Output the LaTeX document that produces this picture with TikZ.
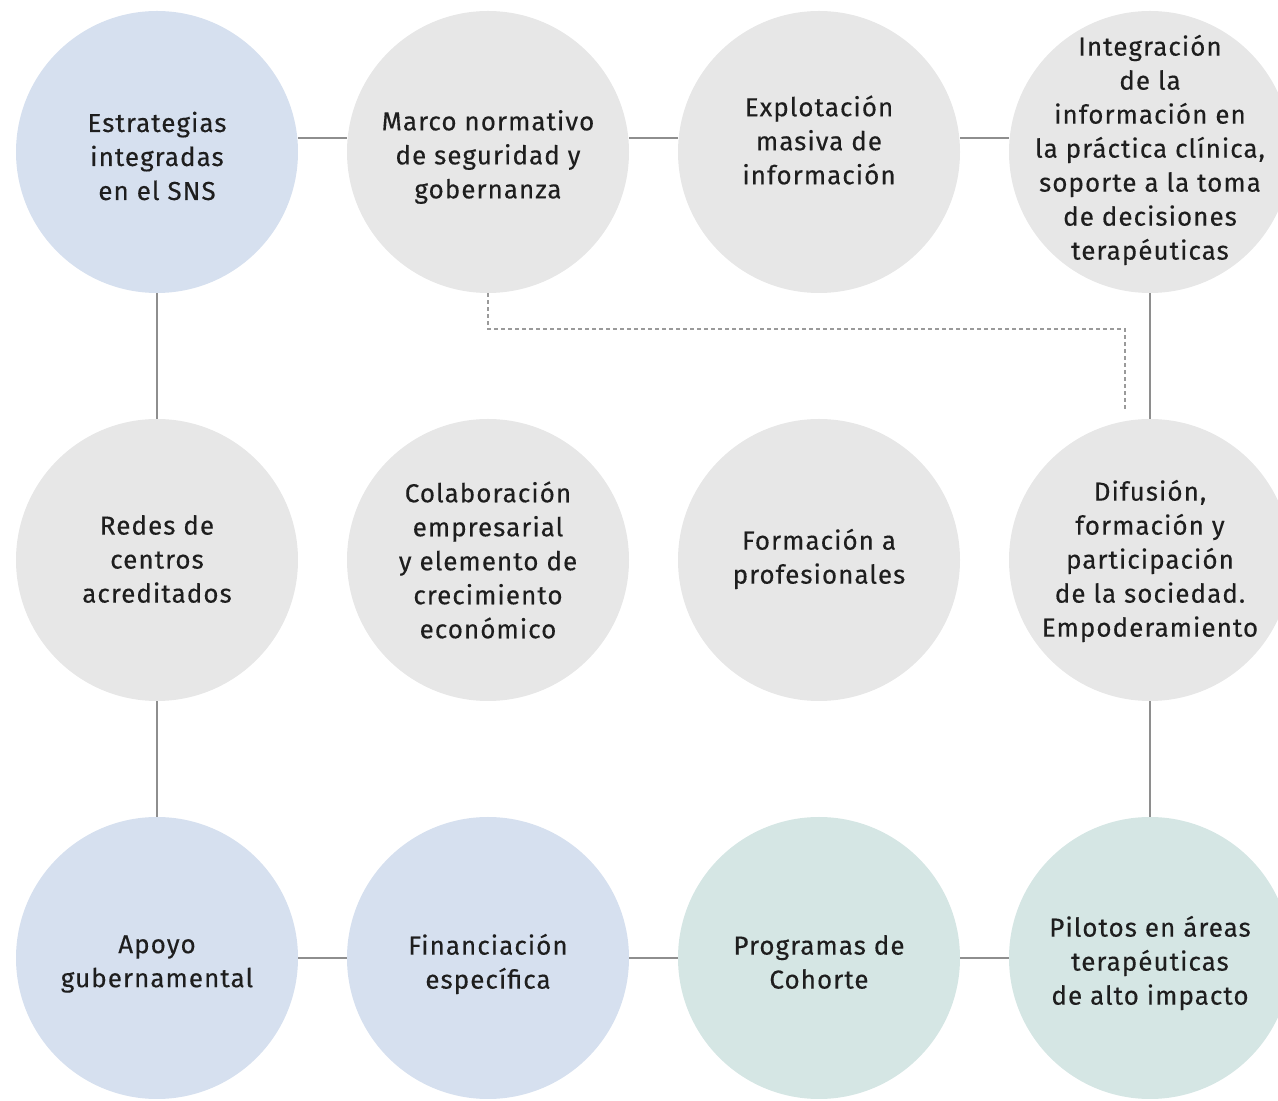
\documentclass[tikz,border=0pt]{standalone}
\usepackage{fontspec}
\setmainfont{Fira Sans}[LetterSpace=4,FakeBold=0.3]
\definecolor{cblue}{HTML}{D6E0EF}
\definecolor{cgray}{HTML}{E7E7E7}
\definecolor{cteal}{HTML}{D5E6E4}
\definecolor{lgray}{HTML}{8E8E8E}
\definecolor{dgray}{HTML}{9A9A9A}
\definecolor{tcol}{HTML}{1E1E1E}
\begin{document}
\begin{tikzpicture}[x=1pt,y=1pt,
  bub/.style={circle,minimum size=282pt,inner sep=0pt,draw=none},
  txt/.style={align=center,text=tcol,font=\fontsize{26}{34}\selectfont},
  conn/.style={draw=lgray,line width=2pt},
  dconn/.style={draw=dgray,line width=2pt,dash pattern=on 4pt off 3pt}]
\useasboundingbox (0,0) rectangle (1278,1101);
\clip (0,0) rectangle (1278,1101);
% row 1
\node[bub,fill=cblue] (c1) at (157,949) {};
\node[bub,fill=cgray] (c2) at (488,949) {};
\node[bub,fill=cgray] (c3) at (819,949) {};
\node[bub,fill=cgray] (c4) at (1150,949) {};
% row 2
\node[bub,fill=cgray] (c5) at (157,541) {};
\node[bub,fill=cgray] (c6) at (488,541) {};
\node[bub,fill=cgray] (c7) at (819,541) {};
\node[bub,fill=cgray] (c8) at (1150,541) {};
% row 3
\node[bub,fill=cblue] (c9) at (157,143) {};
\node[bub,fill=cblue] (c10) at (488,143) {};
\node[bub,fill=cteal] (c11) at (819,143) {};
\node[bub,fill=cteal] (c12) at (1150,143) {};
% texts
\node[txt] (t1) at (157,945) {Estrategias\\integradas\\en el SNS};
\node[txt] (t2) at (488,944) {Marco normativo\\de seguridad y\\gobernanza};
\node[txt] (t3) at (819,961) {Explotación\\masiva de\\información};
\node[txt] (t4) at (1150,951) {Integración\\de la\\información en\\la práctica clínica,\\soporte a la toma\\de decisiones\\terapéuticas};
\node[txt] (t5) at (157,542) {Redes de\\centros\\acreditados};
\node[txt] (t6) at (488,541) {Colaboración\\empresarial\\y elemento de\\crecimiento\\económico};
\node[txt] (t7) at (819,542) {Formación a\\profesionales};
\node[txt] (t8) at (1150,540) {Difusión,\\formación y\\participación\\de la sociedad.\\Empoderamiento};
\node[txt] (t9) at (157,137) {Apoyo\\gubernamental};
\node[txt] (t10) at (488,137) {Financiación\\específica};
\node[txt] (t11) at (819,139) {Programas de\\Cohorte};
\node[txt] (t12) at (1150,138) {Pilotos en áreas\\terapéuticas\\de alto impacto};
% connectors row 1
\draw[conn] ([yshift=14pt]c1.east) -- ([yshift=14pt]c2.west);
\draw[conn] ([yshift=14pt]c2.east) -- ([yshift=14pt]c3.west);
\draw[conn] ([yshift=14pt]c3.east) -- ([yshift=14pt]c4.west);
% row 3
\draw[conn] (c9) -- (c10);
\draw[conn] (c10) -- (c11);
\draw[conn] (c11) -- (c12);
% verticals
\draw[conn] (c1) -- (c5);
\draw[conn] (c5) -- (c9);
\draw[conn] (c4) -- (c8);
\draw[conn] (c8) -- (c12);
% dashed
\coordinate (dk) at (1125,772);
\coordinate (de) at (1125,689);
\draw[dconn] (c2.south) |- (dk) -- (de);
\end{tikzpicture}
\end{document}
